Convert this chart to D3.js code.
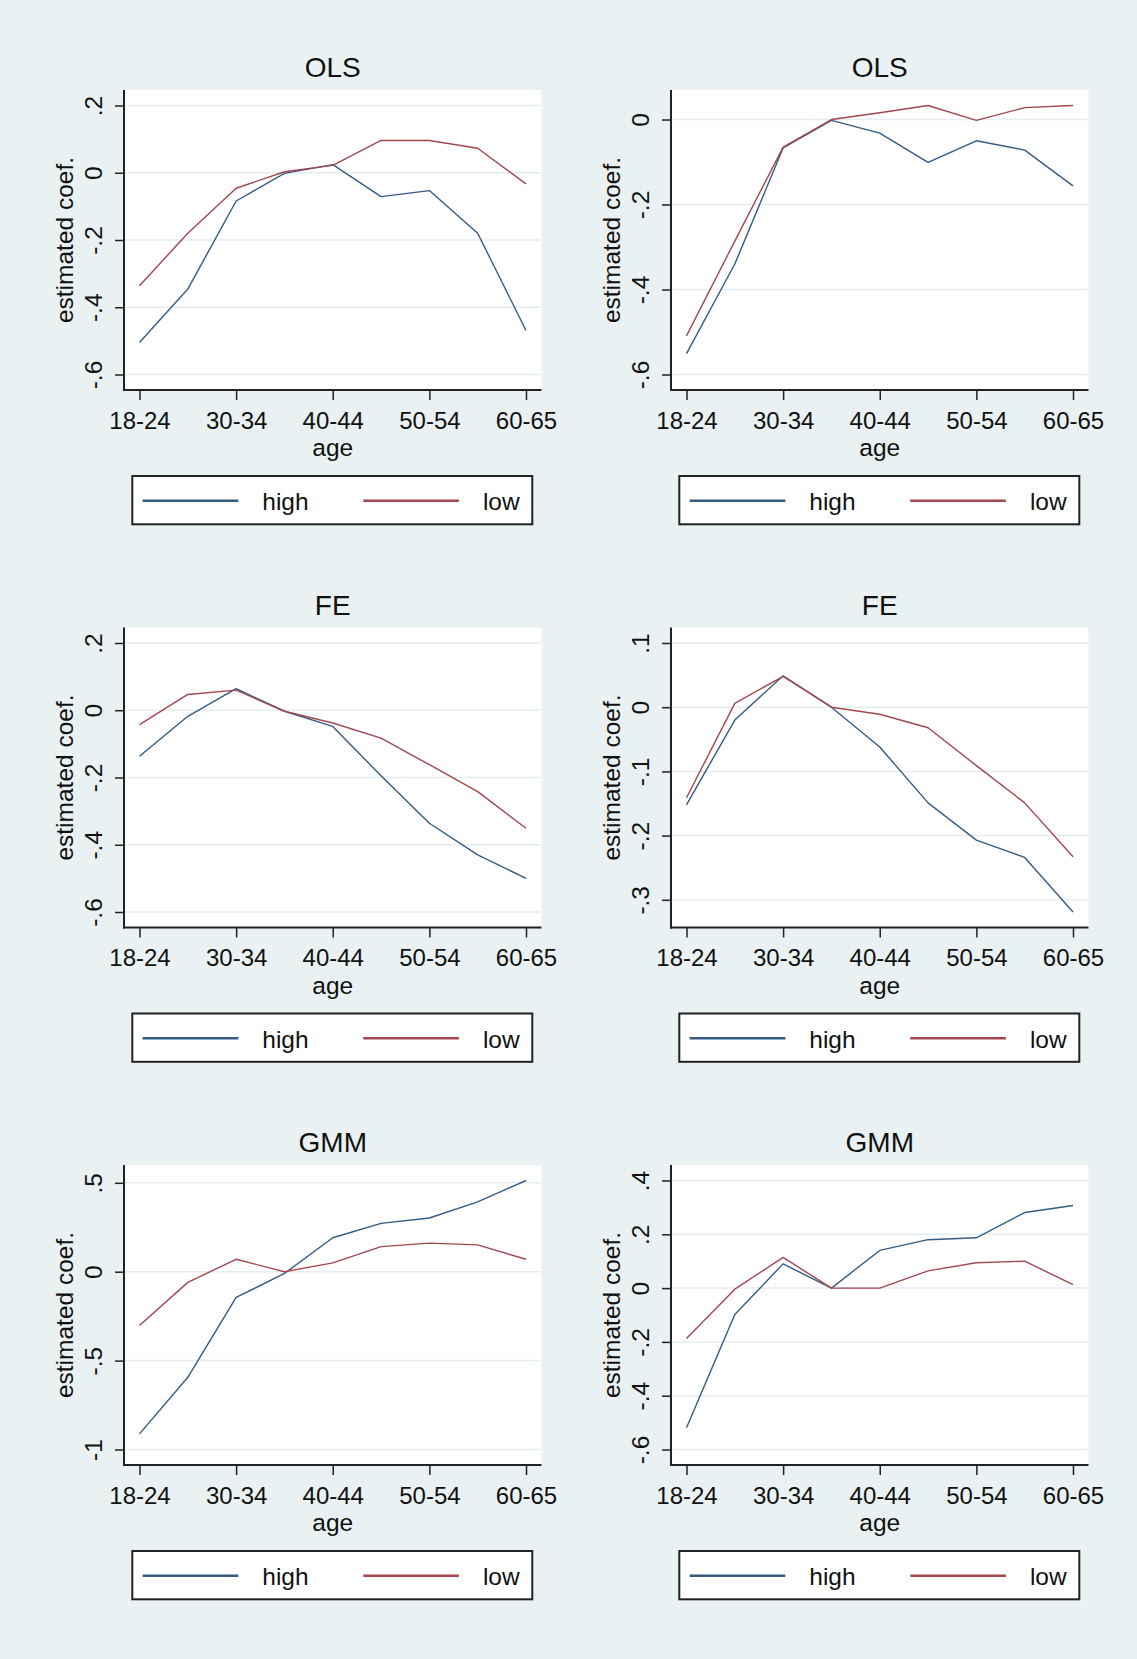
<!DOCTYPE html>
<html><head><meta charset="utf-8">
<script src="https://cdn.jsdelivr.net/npm/d3@7"></script>
<style>body{margin:0;background:#E9F1F3}svg{display:block}</style>
</head><body><svg id="c" width="1137" height="1659"></svg>
<script>
// ---- data ----
const categories = ["18-24","25-29","30-34","35-39","40-44","45-49","50-54","55-59","60-65"];
const xTickLabels = ["18-24","30-34","40-44","50-54","60-65"];
const seriesNames = ["high","low"];
const panelTitles = ["OLS","OLS","FE","FE","GMM","GMM"];

const yTicksOlsA = [-0.6,-0.4,-0.2,0,0.2];
const yTicksOlsB = [-0.6,-0.4,-0.2,0];
const yTicksFeA  = [-0.6,-0.4,-0.2,0,0.2];
const yTicksFeB  = [-0.3,-0.2,-0.1,0,0.1];
const yTicksGmmA = [-1,-0.5,0,0.5];
const yTicksGmmB = [-0.6,-0.4,-0.2,0,0.2,0.4];

const olsHighA = [-0.505,-0.346,-0.084,-0.002,0.024,-0.071,-0.053,-0.180,-0.469];
const olsLowA  = [-0.336,-0.180,-0.046,0.003,0.022,0.096,0.096,0.073,-0.033];
const olsHighB = [-0.551,-0.340,-0.067,-0.002,-0.032,-0.101,-0.050,-0.072,-0.156];
const olsLowB  = [-0.509,-0.286,-0.065,0.000,0.016,0.033,-0.002,0.028,0.033];
const feHighA  = [-0.137,-0.018,0.064,-0.003,-0.048,-0.195,-0.336,-0.430,-0.500];
const feLowA   = [-0.043,0.047,0.060,-0.003,-0.038,-0.083,-0.162,-0.242,-0.351];
const feHighB  = [-0.152,-0.020,0.049,0.000,-0.062,-0.149,-0.207,-0.234,-0.319];
const feLowB   = [-0.141,0.006,0.048,0.000,-0.011,-0.032,-0.091,-0.149,-0.233];
const gmmHighA = [-0.912,-0.594,-0.145,-0.010,0.191,0.272,0.302,0.393,0.513];
const gmmLowA  = [-0.302,-0.060,0.070,0.000,0.050,0.141,0.161,0.151,0.070];
const gmmHighB = [-0.519,-0.098,0.090,0.000,0.140,0.180,0.187,0.281,0.307];
const gmmLowB  = [-0.187,-0.004,0.114,0.000,0.000,0.064,0.094,0.100,0.013];

const panels = [
  {title: panelTitles[0], row:0, col:0, ticks: yTicksOlsA, high: olsHighA, low: olsLowA},
  {title: panelTitles[1], row:0, col:1, ticks: yTicksOlsB, high: olsHighB, low: olsLowB},
  {title: panelTitles[2], row:1, col:0, ticks: yTicksFeA,  high: feHighA,  low: feLowA},
  {title: panelTitles[3], row:1, col:1, ticks: yTicksFeB,  high: feHighB,  low: feLowB},
  {title: panelTitles[4], row:2, col:0, ticks: yTicksGmmA, high: gmmHighA, low: gmmLowA},
  {title: panelTitles[5], row:2, col:1, ticks: yTicksGmmB, high: gmmHighB, low: gmmLowB}
];

// ---- drawing ----
const FONT = '"Liberation Sans", Arial, sans-serif';
const BG = "#E9F1F3";
const colors = {high:"#345C83", low:"#A2474F"};
const svg = d3.select("#c");
svg.append("rect").attr("width",1137).attr("height",1659).attr("fill",BG);

const colX0 = 124, colStep = 547, rowY0 = 90, rowStep = 537.5;
const PW = 417.5, PH = 300, PAD = 15.5;
const fmt = d => d === 0 ? "0" : String(d).replace("0.", ".");

panels.forEach(p => {
  const L = colX0 + p.col*colStep, T = rowY0 + p.row*rowStep, R = L + PW, B = T + PH;
  const g = svg.append("g");
  g.append("rect").attr("x",L).attr("y",T).attr("width",PW).attr("height",PH).attr("fill","#fff");

  const all = p.ticks.concat(p.high, p.low);
  const y = d3.scaleLinear().domain([d3.min(all), d3.max(all)]).range([B-PAD, T+PAD]);
  const x = d3.scalePoint().domain(categories).range([L+PAD, R-PAD]);

  // gridlines
  g.append("g").selectAll("line").data(p.ticks).join("line")
    .attr("x1",L).attr("x2",R).attr("y1",d=>y(d)).attr("y2",d=>y(d))
    .attr("stroke","#E4EDF0").attr("stroke-width",1.5);

  // series
  const line = d3.line().x((d,i)=>x(categories[i])).y(d=>y(d));
  [["high",p.high],["low",p.low]].forEach(([name,vals]) => {
    g.append("path").datum(vals).attr("d",line).attr("fill","none")
      .attr("stroke",colors[name]).attr("stroke-width",1.4).attr("stroke-linejoin","round");
  });

  // y axis
  const ya = g.append("g").attr("transform",`translate(${L},0)`)
    .call(d3.axisLeft(y).tickValues(p.ticks).tickSize(9).tickSizeOuter(0).tickFormat(fmt));
  ya.select(".domain").remove();
  ya.selectAll(".tick line").attr("stroke","#222").attr("stroke-width",1.5);
  ya.selectAll(".tick text").attr("x",0).attr("dy",null).attr("text-anchor","middle")
    .attr("transform","translate(-22,0) rotate(-90)")
    .attr("font-size",24.5).attr("font-family",FONT).attr("fill","#111");

  // x axis
  const xa = g.append("g").attr("transform",`translate(0,${B})`)
    .call(d3.axisBottom(x).tickValues(xTickLabels).tickSize(10).tickSizeOuter(0));
  xa.select(".domain").remove();
  xa.selectAll(".tick line").attr("stroke","#222").attr("stroke-width",1.5);
  xa.selectAll(".tick text").attr("y",38.5).attr("dy",null).attr("text-anchor","middle")
    .attr("font-size",24).attr("font-family",FONT).attr("fill","#111");

  // axis lines
  g.append("line").attr("x1",L).attr("x2",L).attr("y1",T).attr("y2",B+1).attr("stroke","#222").attr("stroke-width",2);
  g.append("line").attr("x1",L-1).attr("x2",R).attr("y1",B).attr("y2",B).attr("stroke","#222").attr("stroke-width",2);

  // titles
  g.append("text").attr("x",L+PW/2).attr("y",T-13).attr("text-anchor","middle")
    .attr("font-size",28).attr("font-family",FONT).attr("fill","#111").text(p.title);
  g.append("text").attr("x",L+PW/2).attr("y",T+366).attr("text-anchor","middle")
    .attr("font-size",24.5).attr("font-family",FONT).attr("fill","#111").text("age");
  g.append("text").attr("transform",`translate(${L-51},${T+PH/2}) rotate(-90)`).attr("text-anchor","middle")
    .attr("font-size",24.5).attr("font-family",FONT).attr("fill","#111").text("estimated coef.");

  // legend
  const lg = g.append("g").attr("transform",`translate(${L},${T})`);
  lg.append("rect").attr("x",8.3).attr("y",386).attr("width",400).attr("height",48.3)
    .attr("fill","#fff").attr("stroke","#222").attr("stroke-width",2);
  seriesNames.forEach((name,i) => {
    const x0 = 18.7 + i*220.6;
    lg.append("line").attr("x1",x0).attr("x2",x0+95.6).attr("y1",410.7).attr("y2",410.7)
      .attr("stroke",colors[name]).attr("stroke-width",2.5);
    lg.append("text").attr("x",x0+119.6).attr("y",420).attr("font-size",24.5)
      .attr("font-family",FONT).attr("fill","#111").text(name);
  });
});
</script></body></html>
